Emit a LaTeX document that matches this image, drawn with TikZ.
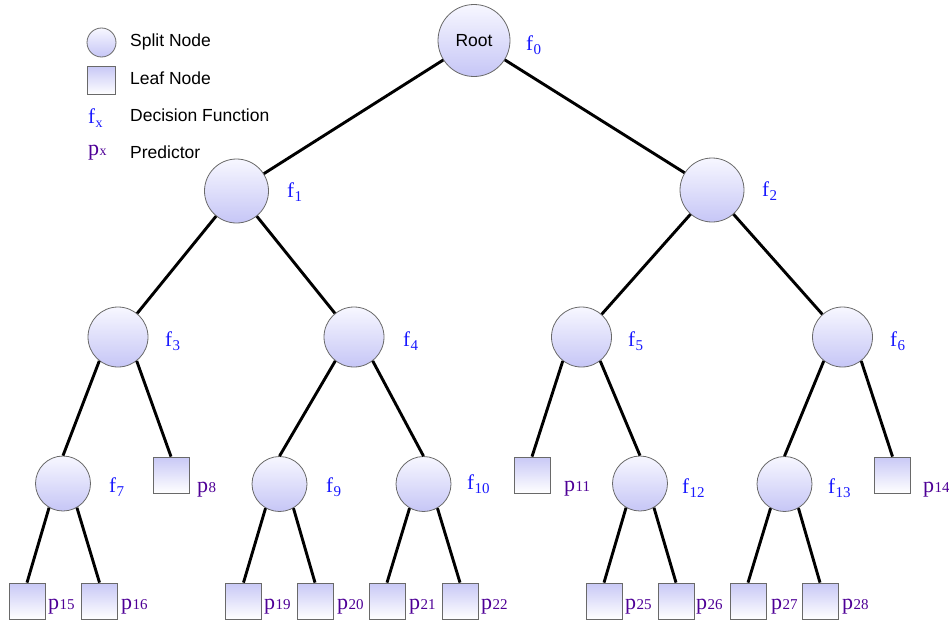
\documentclass[tikz,border=0pt]{standalone}
\usepackage{fontspec}
\newfontfamily\sansf{Liberation Sans}
\newfontfamily\serf{Liberation Serif}
\definecolor{fcol}{RGB}{25,25,255}
\definecolor{pcol}{RGB}{78,0,150}
\definecolor{ctop}{RGB}{247,247,255}
\definecolor{cbot}{RGB}{198,198,246}
\definecolor{ltop}{RGB}{200,200,246}
\definecolor{bordc}{RGB}{105,105,105}
\newcommand\fsub[1]{f\kern0.5pt\raisebox{-4pt}{\fontsize{15}{15}\selectfont #1}}
\newcommand\psub[1]{p\kern0.5pt{\fontsize{15}{15}\selectfont #1}}
\tikzset{
  split/.style={circle, draw=bordc, line width=0.8pt, top color=ctop, bottom color=cbot, inner sep=0pt},
  lvA/.style={split, minimum size=72pt},
  lvB/.style={split, minimum size=64pt},
  lvC/.style={split, minimum size=60pt},
  lvD/.style={split, minimum size=55pt},
  leafbox/.style={rectangle, draw=bordc, line width=0.8pt, top color=ltop, bottom color=white, inner sep=0pt, minimum size=36pt},
  conn/.style={line width=2.9pt, black},
  flabel/.style={anchor=base west, inner sep=0pt, text=fcol, font=\serf\fontsize{21}{21}\selectfont},
  plabel/.style={anchor=base west, inner sep=0pt, text=pcol, font=\serf\fontsize{22}{22}\selectfont},
  legtext/.style={anchor=west, inner sep=0pt, font=\sansf\fontsize{17.5}{17.5}\selectfont},
}
\begin{document}
\begin{tikzpicture}[x=1pt, y=-1pt]
\useasboundingbox (0,0) rectangle (949,621);
% legend
\node[split, minimum size=29pt] (legc) at (101.5,42.5) {};
\node[leafbox, minimum size=28pt] (legs) at (101,80.5) {};
\node[flabel] (legf) at (88,123) {f\kern0.5pt\raisebox{-4pt}{\fontsize{14}{14}\selectfont x}};
\node[plabel] (legp) at (88,155) {p\kern0.5pt{\fontsize{14}{14}\selectfont x}};
\node[legtext] (legt1) at (130,42) {Split Node};
\node[legtext] (legt2) at (130,78) {Leaf Node};
\node[legtext] (legt3) at (130,115) {Decision Function};
\node[legtext] (legt4) at (130,152) {Predictor};
% split nodes
\node[lvA, font=\sansf\fontsize{17.5}{17.5}\selectfont] (n0) at (474,40.5) {Root};
\node[lvB] (n1) at (236.5,191) {};
\node[lvB] (n2) at (712,190) {};
\node[lvC] (n3) at (118,337) {};
\node[lvC] (n4) at (354,337) {};
\node[lvC] (n5) at (581.5,337) {};
\node[lvC] (n6) at (842.5,337) {};
\node[lvD] (n7) at (63,483.5) {};
\node[lvD] (n9) at (279.5,484) {};
\node[lvD] (n10) at (423.5,484) {};
\node[lvD] (n12) at (640,483.5) {};
\node[lvD] (n13) at (784.5,484) {};
% leaves
\node[leafbox] (p8) at (171,475) {};
\node[leafbox] (p11) at (532,475) {};
\node[leafbox] (p14) at (892.5,475) {};
\node[leafbox] (p15) at (27,601) {};
\node[leafbox] (p16) at (99.5,601) {};
\node[leafbox] (p19) at (243.5,601) {};
\node[leafbox] (p20) at (315,601) {};
\node[leafbox] (p21) at (387,601) {};
\node[leafbox] (p22) at (460,601) {};
\node[leafbox] (p25) at (604,601) {};
\node[leafbox] (p26) at (676,601) {};
\node[leafbox] (p27) at (748,601) {};
\node[leafbox] (p28) at (820,601) {};
% edges
\draw[conn] (n0) -- (n1);
\draw[conn] (n0) -- (n2);
\draw[conn] (n1) -- (n3);
\draw[conn] (n1) -- (n4);
\draw[conn] (n2) -- (n5);
\draw[conn] (n2) -- (n6);
\draw[conn] (n3.232) -- (n7.north);
\draw[conn] (n3.308) -- (p8.north);
\draw[conn] (n4.232) -- (n9.north);
\draw[conn] (n4.308) -- (n10.north);
\draw[conn] (n5.232) -- (p11.north);
\draw[conn] (n5.308) -- (n12.north);
\draw[conn] (n6.232) -- (n13.north);
\draw[conn] (n6.308) -- (p14.north);
\draw[conn] (n7.240) -- (p15.north);
\draw[conn] (n7.300) -- (p16.north);
\draw[conn] (n9.240) -- (p19.north);
\draw[conn] (n9.300) -- (p20.north);
\draw[conn] (n10.240) -- (p21.north);
\draw[conn] (n10.300) -- (p22.north);
\draw[conn] (n12.240) -- (p25.north);
\draw[conn] (n12.300) -- (p26.north);
\draw[conn] (n13.240) -- (p27.north);
\draw[conn] (n13.300) -- (p28.north);
% f labels
\node[flabel] (lf0) at (526,50) {\fsub{0}};
\node[flabel] (lf1) at (287,197) {\fsub{1}};
\node[flabel] (lf2) at (762,196) {\fsub{2}};
\node[flabel] (lf3) at (165,346) {\fsub{3}};
\node[flabel] (lf4) at (403,346) {\fsub{4}};
\node[flabel] (lf5) at (628,346) {\fsub{5}};
\node[flabel] (lf6) at (890,346) {\fsub{6}};
\node[flabel] (lf7) at (109,492) {\fsub{7}};
\node[flabel] (lf9) at (326,492) {\fsub{9}};
\node[flabel] (lf10) at (467,489) {\fsub{10}};
\node[flabel] (lf12) at (682,493) {\fsub{12}};
\node[flabel] (lf13) at (828,493) {\fsub{13}};
% p labels
\node[plabel] (lp8) at (197,492) {\psub{8}};
\node[plabel] (lp11) at (564,491) {\psub{11}};
\node[plabel] (lp14) at (923,492) {\psub{14}};
\node[plabel] (lp15) at (48,609) {\psub{15}};
\node[plabel] (lp16) at (121,609) {\psub{16}};
\node[plabel] (lp19) at (264,609) {\psub{19}};
\node[plabel] (lp20) at (337,609) {\psub{20}};
\node[plabel] (lp21) at (409,609) {\psub{21}};
\node[plabel] (lp22) at (481,609) {\psub{22}};
\node[plabel] (lp25) at (625,609) {\psub{25}};
\node[plabel] (lp26) at (696,609) {\psub{26}};
\node[plabel] (lp27) at (771,609) {\psub{27}};
\node[plabel] (lp28) at (842,609) {\psub{28}};
\end{tikzpicture}
\end{document}
